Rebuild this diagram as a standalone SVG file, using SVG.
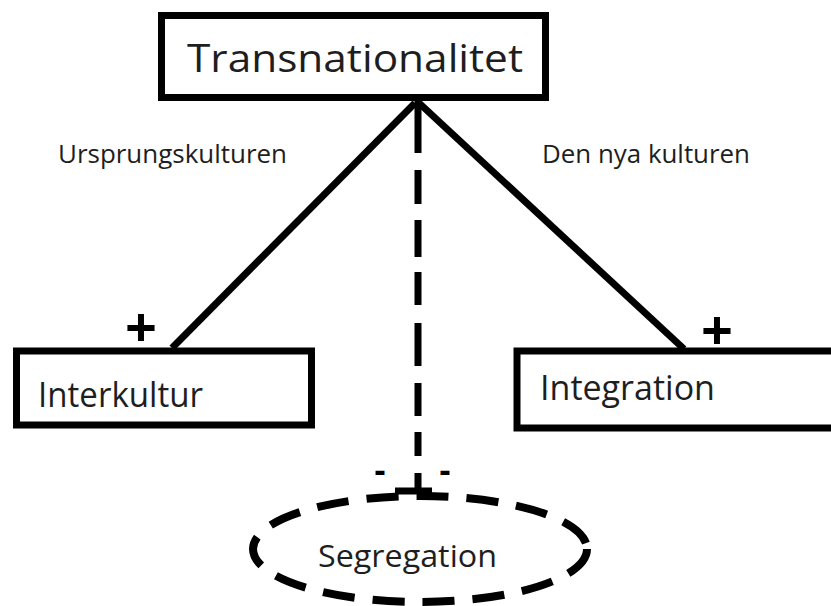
<svg xmlns="http://www.w3.org/2000/svg" width="831" height="606" viewBox="0 0 831 606">
<style>
.box{fill:#fff;stroke:#000;stroke-width:7}
.t{font-family:"Open Sans","Liberation Sans",sans-serif;fill:#1e1e1e}
.ln{stroke:#000;stroke-width:7;fill:none}
.sg{font-family:"Open Sans","Liberation Sans",sans-serif;font-weight:bold;fill:#000;text-anchor:middle}
</style>
<rect width="831" height="606" fill="#fff"/>
<g id="connectors">
<path class="ln" d="M415 103 L172 348"/>
<path class="ln" d="M419 103 L684 349"/>
<path class="ln" stroke-width="8" d="M418 100 V153 M418 170 V204 M418 220 V257 M418 272 V305 M418 323 V366 M418 383 V416 M418 432 V456 M418 473 V490"/>
<path class="ln" stroke-width="8" d="M395 491 H432"/>
<text class="t" x="58" y="163" font-size="25" textLength="229" lengthAdjust="spacingAndGlyphs">Ursprungskulturen</text>
<text class="t" x="542" y="163" font-size="25" textLength="208" lengthAdjust="spacingAndGlyphs">Den nya kulturen</text>
<text class="sg" x="141" y="347" font-size="56">+</text>
<text class="sg" x="717" y="350" font-size="56">+</text>
<text class="sg" x="380" y="482" font-size="34">-</text>
<text class="sg" x="445" y="482" font-size="34">-</text>
</g>
<g id="node-transnationalitet">
<rect class="box" x="161.5" y="15.5" width="384" height="82"/>
<text class="t" x="187" y="72" font-size="39" textLength="336" lengthAdjust="spacingAndGlyphs">Transnationalitet</text>
</g>
<g id="node-interkultur">
<rect class="box" x="16.5" y="351" width="295" height="74" stroke-width="8"/>
<text class="t" x="38" y="407" font-size="34" textLength="165" lengthAdjust="spacingAndGlyphs">Interkultur</text>
</g>
<g id="node-integration">
<rect class="box" x="517" y="351" width="330" height="77" stroke-width="8"/>
<text class="t" x="540" y="400" font-size="35" textLength="175" lengthAdjust="spacingAndGlyphs">Integration</text>
</g>
<g id="node-segregation">
<ellipse cx="420" cy="549" rx="167" ry="53" fill="none" stroke="#000" stroke-width="8" stroke-dasharray="32 18"/>
<text class="t" x="318" y="567" font-size="31" textLength="179" lengthAdjust="spacingAndGlyphs">Segregation</text>
</g>
</svg>
